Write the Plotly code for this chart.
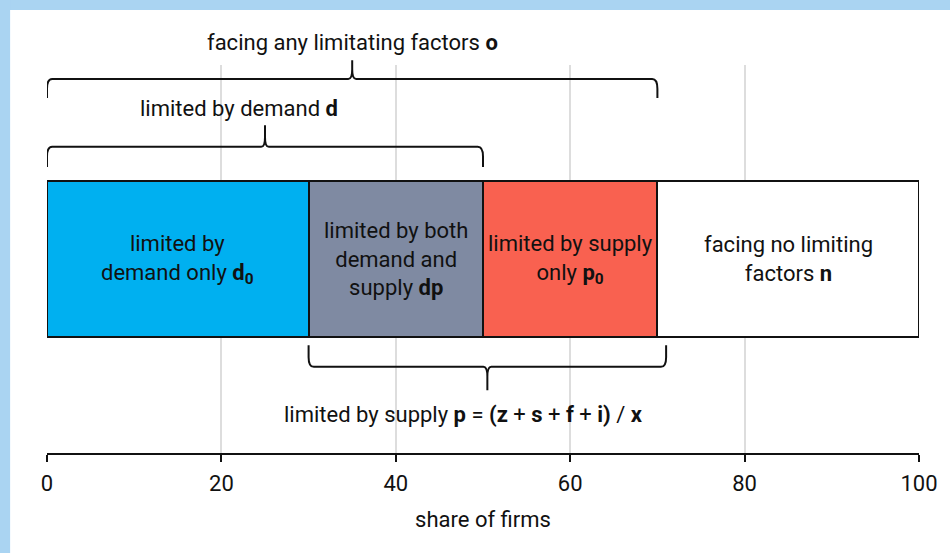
import plotly.graph_objects as go

# ---- data ----
segment_names = ["demand only", "both demand and supply", "supply only", "no limiting factors"]
segment_labels = [
    "limited by<br>demand only <b>d<sub>0</sub></b>",
    "limited by both<br>demand and<br>supply <b>dp</b>",
    "limited by supply<br>only <b>p<sub>0</sub></b>",
    "facing no limiting<br>factors <b>n</b>",
]
shares = [30, 20, 20, 30]
segment_colors = ["#00b0f0", "#7f8aa2", "#f96150", "#ffffff"]

tick_vals = [0, 20, 40, 60, 80, 100]
tick_text = ["0", "20", "40", "60", "80", "100"]

# brace spans: (start, end, label x, label)
brace_o = (0, 70, 35, "facing any limitating factors <b>o</b>")
brace_d = (0, 50, 22, "limited by demand <b>d</b>")
brace_p = (30, 71, 47.8,
           "limited by supply <b>p</b> = <b>(z</b> + <b>s</b> + <b>f</b> + <b>i)</b> / <b>x</b>")

FONT = "Roboto, Arial, sans-serif"
FS = 22
INK = "#111111"
FRAME = "#aad4f2"

fig = go.Figure()
for name, val, col in zip(segment_names, shares, segment_colors):
    fig.add_trace(go.Bar(
        x=[val], y=[0.5], orientation="h", width=0.402, name=name,
        marker=dict(color=col, line=dict(color="#111111", width=2)),
        hoverinfo="skip", showlegend=False,
    ))

# labels inside segments
cum = 0
for val, lab in zip(shares, segment_labels):
    fig.add_annotation(x=cum + val / 2, y=0.5, xref="x", yref="y", text=lab,
                       xanchor="center", yanchor="middle",
                       showarrow=False, font=dict(family=FONT, size=FS, color=INK),
                       align="center")
    cum += val


def brace_path(x0, x1, xc, y_end, y_h, y_tip, rx=0.6, ry=0.025, cx=0.45):
    s = 1 if y_tip > y_h else -1  # direction of the cusp
    return (f"M {x0},{y_end} L {x0},{y_h - s*ry} Q {x0},{y_h} {x0 + rx},{y_h} "
            f"L {xc - cx},{y_h} Q {xc},{y_h} {xc},{y_h + s*ry} L {xc},{y_tip} "
            f"L {xc},{y_h + s*ry} Q {xc},{y_h} {xc + cx},{y_h} "
            f"L {x1 - rx},{y_h} Q {x1},{y_h} {x1},{y_h - s*ry} L {x1},{y_end}")


def add_brace(b, y_end, y_h, y_tip, y_text):
    fig.add_shape(type="path", xref="x", yref="paper", line=dict(color=INK, width=2),
                  path=brace_path(b[0], b[1], (b[0] + b[1]) / 2, y_end, y_h, y_tip))
    fig.add_annotation(x=b[2], y=y_text, xref="x", yref="paper", text=b[3],
                       xanchor="center", yanchor="middle", showarrow=False,
                       font=dict(family=FONT, size=FS, color=INK))


add_brace(brace_o, 0.915, 0.964, 1.012, 1.059)
add_brace(brace_d, 0.737, 0.789, 0.845, 0.889)
add_brace(brace_p, 0.278, 0.222, 0.162, 0.098)

# light-blue frame strips along the top and left edges
fig.add_shape(type="rect", xref="paper", yref="paper", layer="below",
              x0=-0.1, x1=1.2, y0=1.1418, y1=1.3,
              fillcolor=FRAME, line=dict(width=0))
fig.add_shape(type="rect", xref="paper", yref="paper", layer="below",
              x0=-0.1, x1=-0.0423, y0=-0.4, y1=1.3,
              fillcolor=FRAME, line=dict(width=0))

fig.update_layout(
    width=950, height=553,
    margin=dict(l=47, r=28, t=65, b=100),
    paper_bgcolor="#ffffff", plot_bgcolor="#ffffff",
    barmode="stack", bargap=0,
    font=dict(family=FONT, size=FS, color=INK),
    xaxis=dict(range=[0, 100], tickvals=tick_vals, ticktext=tick_text,
               showgrid=True, gridcolor="#dddddd", gridwidth=2, zeroline=False,
               showline=True, linecolor=INK, linewidth=2,
               ticks="outside", ticklen=7, tickwidth=2, tickcolor=INK,
               ticklabelstandoff=3,
               tickfont=dict(family=FONT, size=FS, color=INK),
               title=dict(text="share of firms", standoff=16,
                          font=dict(family=FONT, size=FS, color=INK)),
               fixedrange=True),
    yaxis=dict(range=[0, 1], visible=False, fixedrange=True),
)

fig.write_html(
    "out.html",
    config={"displayModeBar": False},
    post_script="document.body.style.margin='0';document.body.style.overflow='hidden';",
)
